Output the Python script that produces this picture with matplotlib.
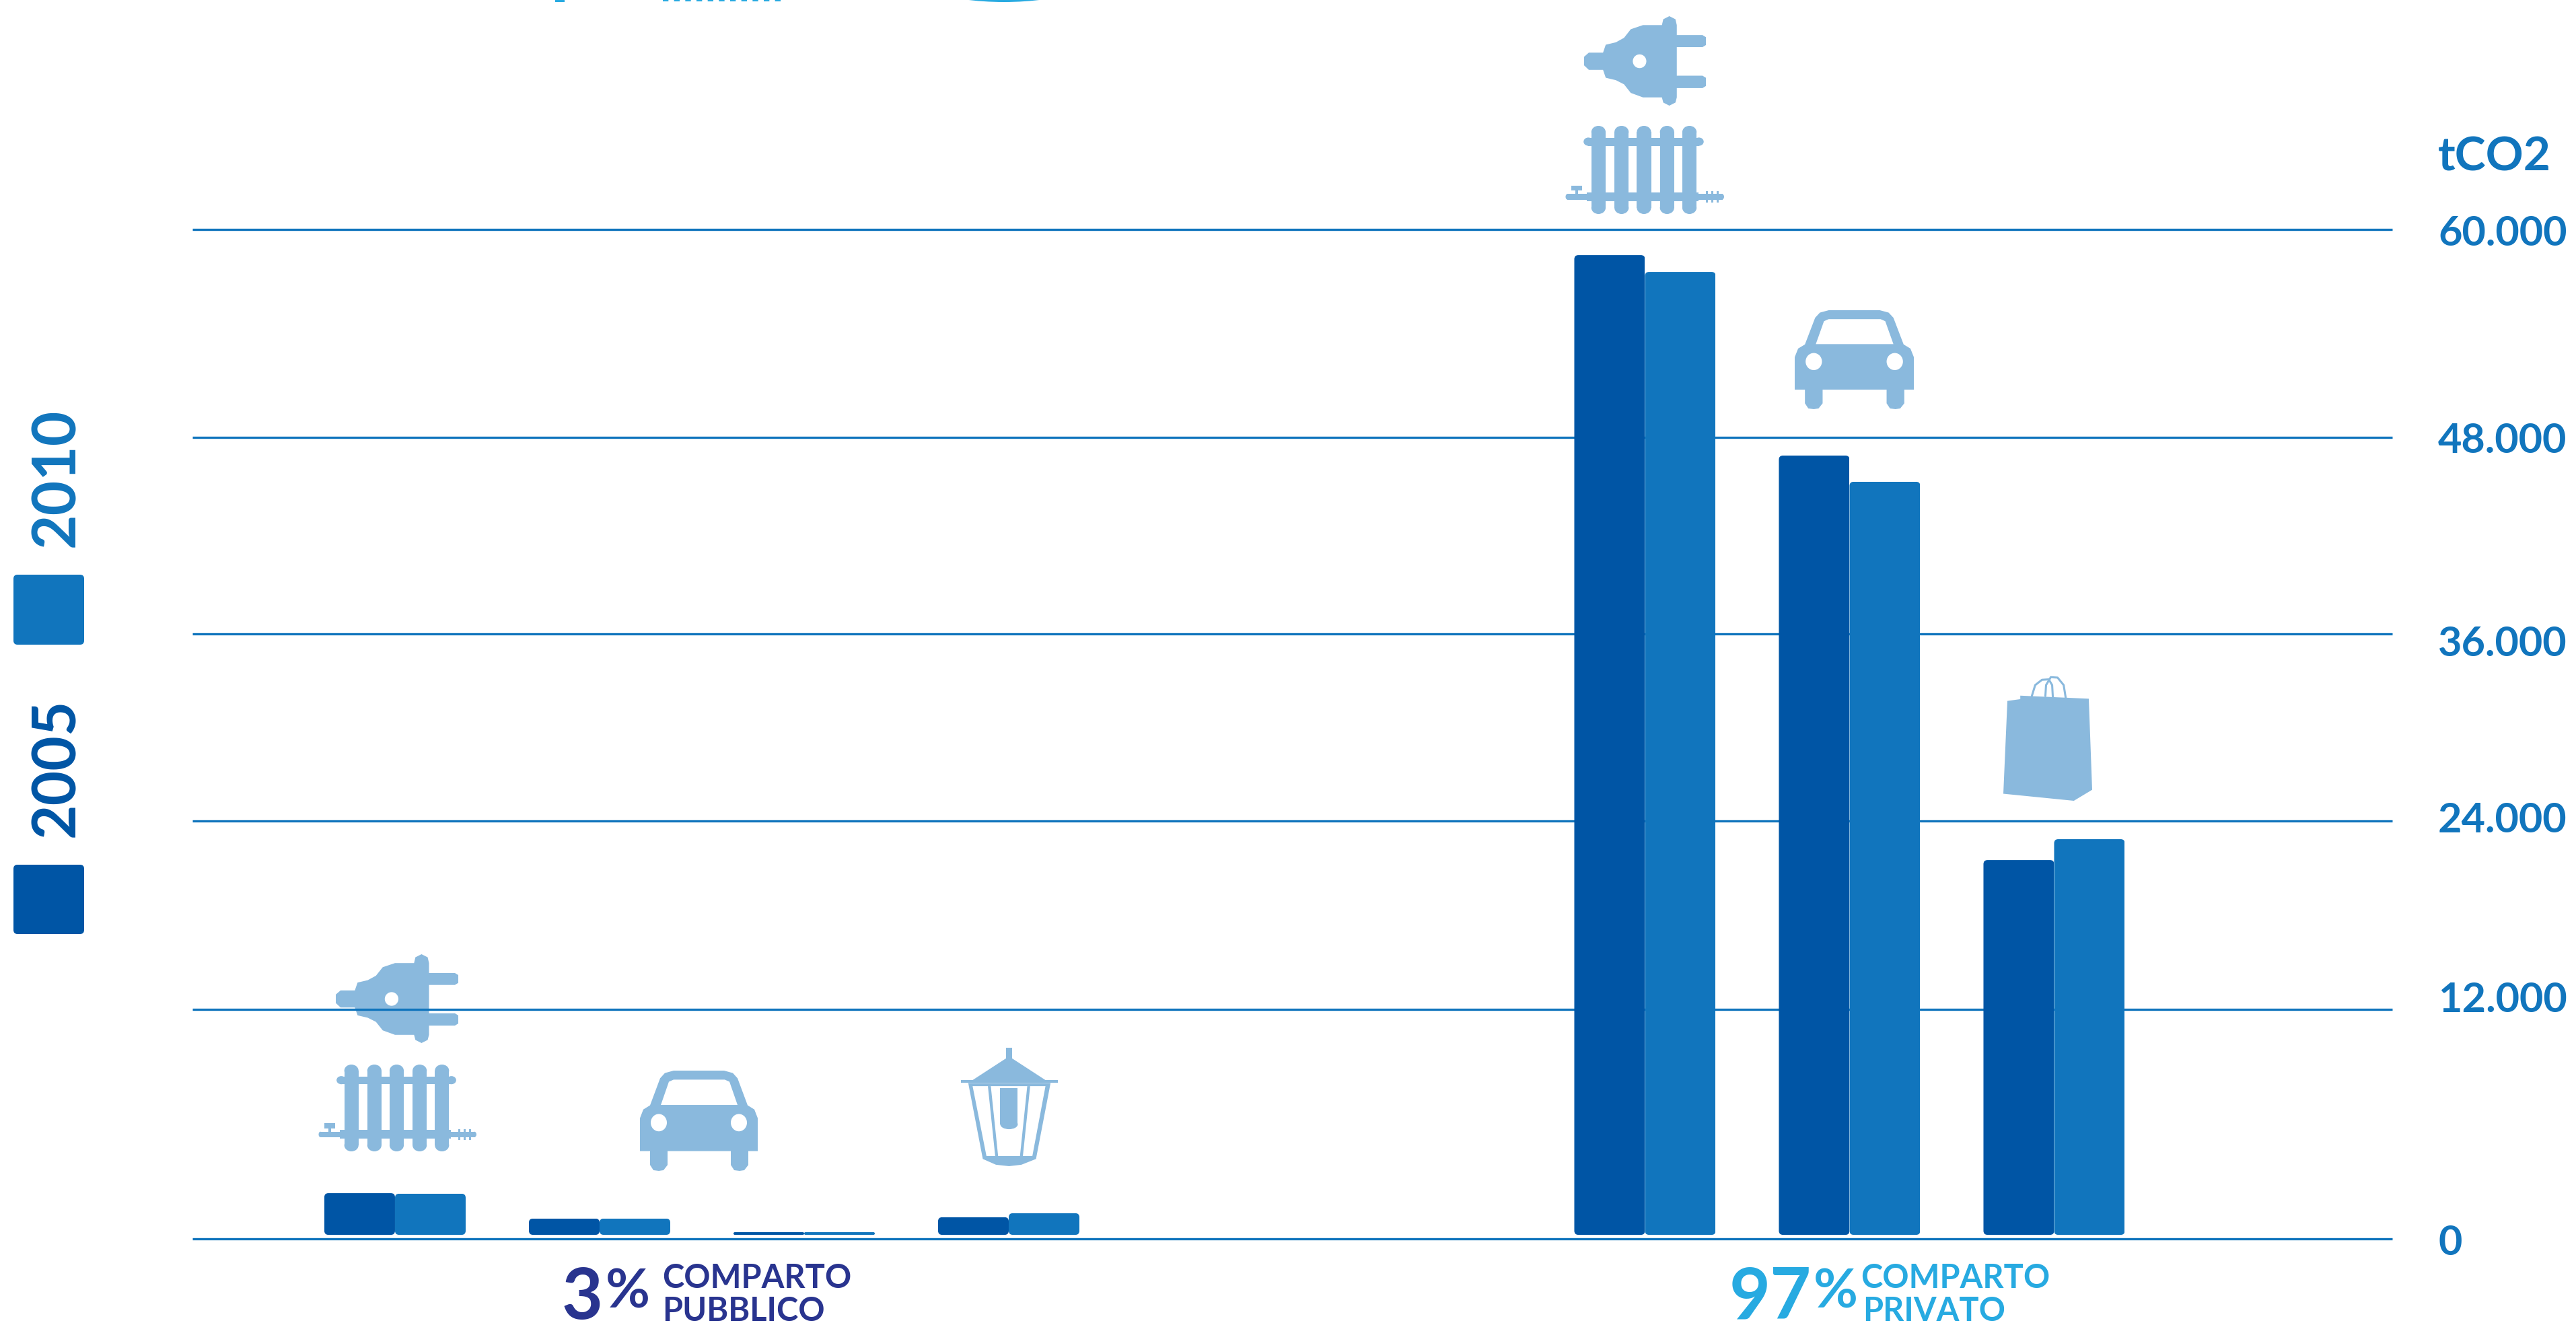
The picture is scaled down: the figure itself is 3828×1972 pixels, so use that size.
import matplotlib
matplotlib.use('Agg')
import matplotlib.pyplot as plt
import numpy as np
from matplotlib.patches import Ellipse, FancyBboxPatch, Polygon, Rectangle
from matplotlib.transforms import Affine2D, IdentityTransform

# values (tCO2)
public_2005 = [2390, 1060, 350, 1130]
public_2010 = [2360, 1060, 350, 1340]
private_2005 = [58520, 46890, 21510]
private_2010 = [57550, 45290, 22840]
public_slots = [0, 1, 2, 3]
private_slots = [6.11, 7.11, 8.11]
bar_floor = 210

tick_values = [0, 12000, 24000, 36000, 48000, 60000]
tick_labels = ['0', '12.000', '24.000', '36.000', '48.000', '60.000']
# the gridlines in the source are not evenly spaced
tick_heights = [0, 341, 621, 899, 1191, 1500]
label_drop = [24, 4, 17, 33, 23, 24]

C_2005 = '#0055a5'
C_2010 = '#1175bd'
C_ICON = '#8ab9dd'
C_PUB = '#29348f'
C_PRIV = '#27aae1'

W, H = 3828, 1972

# icon outlines, in their own units
PLUG_BOX = (103, 47, 283, 307)
PLUG = [(218, 73), (190, 73), (172, 85), (162, 110), (150, 123), (135, 130), (131, 153), (110, 153),
        (103, 165), (103, 190), (110, 203), (131, 203), (135, 226), (150, 233), (162, 245), (172, 270),
        (190, 283), (218, 283), (220, 298), (229, 307), (238, 298), (240, 283), (240, 256), (278, 256),
        (283, 250), (283, 226), (278, 220), (240, 220), (240, 137), (278, 137), (283, 131), (283, 108),
        (278, 102), (240, 102), (240, 73), (238, 56), (229, 47), (220, 56)]

RAD_BOX = (77, 367, 310, 623)
RAD_COLS = [125, 159, 192, 226, 259]

CAR_BOX = (415, 903, 590, 1192)
CAR = [(430, 1003), (445, 925), (452, 910), (465, 903), (540, 903), (553, 910), (560, 925), (575, 1003),
       (585, 1015), (590, 1040), (590, 1135), (576, 1135), (576, 1175), (570, 1190), (563, 1192),
       (555, 1190), (550, 1175), (550, 1135), (456, 1135), (456, 1175), (450, 1190), (443, 1192),
       (435, 1190), (430, 1175), (430, 1135), (415, 1135), (415, 1040), (420, 1015)]
CAR_WINDOW = [(446, 1002), (458, 935), (465, 929), (541, 929), (548, 935), (560, 1002)]

LAMP_BOX = (1317, 600, 1450, 1010)
LAMP_BODY = [(1327, 722), (1440, 722), (1420, 985), (1400, 1005), (1383, 1010), (1365, 1005), (1347, 985)]
LAMP_GLASS = [(1333, 733), (1433, 733), (1415, 975), (1352, 975)]

BAG_BOX = (723, 85, 854, 368)
BAG = [(729, 141), (748, 137), (748, 129), (849, 136), (854, 343), (827, 368), (723, 352)]
BAG_H1 = [(765, 130), (770, 105), (780, 93), (790, 92), (795, 105), (796, 132)]
BAG_H2 = [(785, 130), (786, 105), (793, 87), (803, 88), (812, 105), (815, 134)]


def forward(v):
    return np.interp(v, tick_values, tick_heights)


def inverse(h):
    return np.interp(h, tick_heights, tick_values)


class Icon:
    def __init__(self, ax, box, px):
        self.ax = ax
        self.box = box
        self.px = px
        self.sx = (px[2] - px[0]) / (box[2] - box[0])
        self.sy = (px[3] - px[1]) / (box[3] - box[1])

    def pts(self, points):
        return [(self.px[0] + (x - self.box[0]) * self.sx, self.px[1] + (y - self.box[1]) * self.sy)
                for x, y in points]

    def poly(self, points, color=C_ICON):
        self.ax.add_patch(Polygon(self.pts(points), closed=True, fc=color, ec='none'))

    def rect(self, x0, y0, x1, y1, color=C_ICON):
        self.poly([(x0, y0), (x1, y0), (x1, y1), (x0, y1)], color)

    def oval(self, x, y, w, h, color=C_ICON):
        (cx, cy), = self.pts([(x, y)])
        self.ax.add_patch(Ellipse((cx, cy), w * self.sx, h * self.sy, fc=color, ec='none'))

    def line(self, points, lw=2.2):
        xy = np.array(self.pts(points))
        self.ax.plot(xy[:, 0], xy[:, 1], color=C_ICON, lw=lw, solid_capstyle='round')


def draw_plug(ax, px):
    ic = Icon(ax, PLUG_BOX, px)
    ic.poly(PLUG)
    ic.oval(185, 178, 20, 40, 'white')


def draw_radiator(ax, px):
    ic = Icon(ax, RAD_BOX, px)
    for c in RAD_COLS:
        ic.rect(c - 10.5, 385, c + 10.5, 605)
        ic.oval(c, 385, 21, 36)
        ic.oval(c, 605, 21, 36)
    ic.rect(110, 402, 273, 425)
    ic.oval(110, 413, 14, 24)
    ic.oval(273, 413, 14, 24)
    ic.rect(108, 560, 272, 586)
    ic.rect(79, 565, 308, 581)
    ic.oval(79, 573, 5, 16)
    ic.oval(307, 573, 6, 16)
    ic.rect(85, 540, 101, 555)
    ic.rect(91, 555, 95, 566)
    for x in (285, 293, 301):
        ic.rect(x - 1.5, 557, x + 1.5, 590)


def draw_car(ax, px):
    ic = Icon(ax, CAR_BOX, px)
    ic.poly(CAR)
    ic.poly(CAR_WINDOW, 'white')
    ic.oval(443, 1053, 24, 50, 'white')
    ic.oval(562, 1053, 24, 50, 'white')


def draw_lamp(ax, px):
    ic = Icon(ax, LAMP_BOX, px)
    ic.rect(1379, 600, 1387, 640)
    ic.poly([(1383, 630), (1433, 712), (1333, 712)])
    ic.rect(1317, 712, 1450, 722)
    ic.poly(LAMP_BODY)
    ic.poly(LAMP_GLASS, 'white')
    ic.poly([(1354, 733), (1358, 733), (1368, 975), (1364, 975)])
    ic.poly([(1408, 733), (1412, 733), (1402, 975), (1398, 975)])
    ic.rect(1371, 740, 1395, 865)
    ic.oval(1383, 865, 24, 34)


def draw_bag(ax, px):
    ic = Icon(ax, BAG_BOX, px)
    ic.line(BAG_H1)
    ic.line(BAG_H2)
    ic.poly(BAG)


def round_bars(bars, radius=6):
    # clip each bar to a rounded box, the source bars have soft corners
    for b in bars:
        e = b.get_window_extent()
        r = min(radius, e.height / 2)
        clip = FancyBboxPatch((e.x0 + r, e.y0 + r), e.width - 2 * r, e.height - 2 * r,
                              boxstyle=f'round,pad={r},rounding_size={r}',
                              transform=IdentityTransform())
        b.set_clip_path(clip)


fig = plt.figure(figsize=(W / 100, H / 100), dpi=100)
fig.patch.set_facecolor('white')

# pixel layer for icons and loose text, behind the chart so gridlines cross the icons
bg = fig.add_axes([0, 0, 1, 1], zorder=0)
bg.set_xlim(0, W)
bg.set_ylim(H, 0)
bg.axis('off')

ax = fig.add_axes([286 / W, (H - 1841) / H, (3555 - 286) / W, 1500 / H], zorder=1)
ax.patch.set_alpha(0)
ax.set_yscale('function', functions=(forward, inverse))

bar_w = 105 / 304
for slots, v05, v10 in [(public_slots, public_2005, public_2010), (private_slots, private_2005, private_2010)]:
    x = np.array(slots)
    ax.bar(x - bar_w / 2, np.array(v05) - bar_floor, bar_w, bottom=bar_floor, color=C_2005, zorder=3)
    ax.bar(x + bar_w / 2, np.array(v10) - bar_floor, bar_w, bottom=bar_floor, color=C_2010, zorder=3)

ax.set_xlim(-0.99, 9.763)
ax.set_ylim(0, 60000)

for container in ax.containers:
    round_bars(container)

ax.set_xticks([])
ax.set_yticks(tick_values, tick_labels)
ax.yaxis.tick_right()
ax.tick_params(axis='y', which='both', length=0, pad=49, labelcolor=C_2010)
ax.minorticks_off()
ax.grid(axis='y', color=C_2010, lw=2.4)
for gl in ax.get_ygridlines():
    gl.set_clip_on(False)
    gl.set_solid_capstyle('butt')
ax.set_axisbelow(True)
for s in ax.spines.values():
    s.set_visible(False)
for lab, drop in zip(ax.get_yticklabels(), label_drop):
    lab.set_fontfamily('Lato')
    lab.set_fontweight('bold')
    lab.set_fontsize(44)
    lab.set_va('baseline')
    lab.set_transform(lab.get_transform() + Affine2D().translate(0, -drop))

bg.text(3623, 254, 'tCO2', color=C_2010, family='Lato', weight='bold', fontsize=50, va='baseline', ha='left')

# icons
draw_plug(bg, (2354, 24, 2535, 157))
draw_radiator(bg, (2327, 187, 2562, 318))
draw_car(bg, (2667, 461, 2844, 608))
draw_bag(bg, (2977, 1005, 3109, 1190))
draw_plug(bg, (499, 1418, 681, 1550))
draw_radiator(bg, (474, 1582, 708, 1711))
draw_car(bg, (951, 1591, 1126, 1740))
draw_lamp(bg, (1428, 1557, 1572, 1733))

# legend
for y0, y1, c, label, ty in [(1285, 1388, C_2005, '2005', 1244), (854, 958, C_2010, '2010', 813)]:
    bg.add_patch(FancyBboxPatch((26, y0 + 6), 93, y1 - y0 - 12, boxstyle='round,pad=6,rounding_size=6',
                                fc=c, ec='none'))
    bg.text(110, ty, label, color=c, family='Lato', weight='bold', fontsize=64, rotation=90,
            rotation_mode='anchor', ha='left', va='baseline')

# sector captions
bg.text(835, 1960, '3', color=C_PUB, family='Lato', weight='bold', fontsize=76, va='baseline')
bg.text(900, 1944, '%', color=C_PUB, family='Lato', weight='bold', fontsize=58, va='baseline')
bg.text(984, 1914, 'COMPARTO', color=C_PUB, family='Lato', weight='bold', fontsize=35, va='baseline')
bg.text(984, 1963, 'PUBBLICO', color=C_PUB, family='Lato', weight='bold', fontsize=35, va='baseline')
bg.text(2570, 1960, '97', color=C_PRIV, family='Lato', weight='bold', fontsize=76, va='baseline')
bg.text(2695, 1944, '%', color=C_PRIV, family='Lato', weight='bold', fontsize=58, va='baseline')
bg.text(2765, 1914, 'COMPARTO', color=C_PRIV, family='Lato', weight='bold', fontsize=35, va='baseline')
bg.text(2768, 1963, 'PRIVATO', color=C_PRIV, family='Lato', weight='bold', fontsize=35, va='baseline')

# remains of a heading cut off by the top edge
bg.add_patch(Ellipse((1492, -50), 315, 106, fc=C_PRIV, ec='none'))
bg.add_patch(Rectangle((825, 0), 14, 3, fc=C_PRIV, ec='none'))
bg.plot([985, 1160], [0.5, 0.5], color=C_PRIV, lw=1.5, dashes=(4, 4))

fig.savefig('out.png', dpi=100, facecolor='white')
